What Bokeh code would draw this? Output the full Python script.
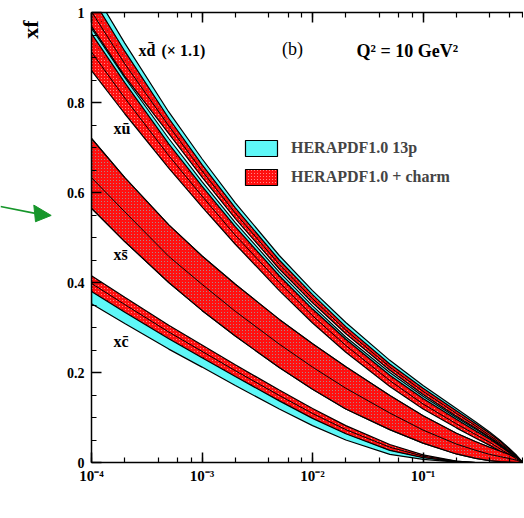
from bokeh.plotting import figure
from bokeh.layouts import row
from bokeh.models import (LogAxis, Label, Legend, LegendItem,
                          CustomJSTickFormatter, FixedTicker, LogTicker)
from bokeh.core.properties import value
from bokeh.embed import file_html
from bokeh.resources import INLINE

# ---------------- data ----------------
x = [1e-4, 2e-4, 5e-4, 1e-3, 2e-3, 5e-3, 1e-2, 2e-2, 5e-2, 0.1, 0.2, 0.3, 0.4, 0.5, 0.6, 0.7, 0.8]

# x dbar (x 1.1)
dbar_13p_hi = [1.055, 0.932, 0.779, 0.675, 0.577, 0.460, 0.382, 0.311, 0.227, 0.171, 0.120, 0.090, 0.068, 0.049, 0.032, 0.016, 0.0]
dbar_13p_lo = [1.015, 0.897, 0.752, 0.651, 0.557, 0.443, 0.366, 0.296, 0.214, 0.160, 0.111, 0.082, 0.061, 0.044, 0.028, 0.014, 0.0]
dbar_ch_hi = [1.035, 0.914, 0.765, 0.662, 0.566, 0.450, 0.373, 0.302, 0.219, 0.165, 0.115, 0.086, 0.065, 0.047, 0.030, 0.015, 0.0]
dbar_ch_mid = [1.002, 0.886, 0.748, 0.648, 0.554, 0.440, 0.364, 0.294, 0.212, 0.158, 0.109, 0.081, 0.060, 0.043, 0.027, 0.014, 0.0]
dbar_ch_lo = [0.969, 0.858, 0.731, 0.634, 0.542, 0.430, 0.355, 0.286, 0.205, 0.151, 0.103, 0.076, 0.056, 0.040, 0.025, 0.012, 0.0]

# x ubar
ubar_13p_hi = [0.965, 0.855, 0.720, 0.624, 0.533, 0.423, 0.348, 0.279, 0.200, 0.147, 0.100, 0.074, 0.055, 0.038, 0.024, 0.012, 0.0]
ubar_13p_lo = [0.941, 0.835, 0.702, 0.609, 0.520, 0.412, 0.337, 0.270, 0.191, 0.139, 0.093, 0.068, 0.049, 0.034, 0.021, 0.010, 0.0]
ubar_ch_hi = [0.953, 0.844, 0.708, 0.614, 0.524, 0.415, 0.341, 0.274, 0.194, 0.142, 0.096, 0.070, 0.052, 0.036, 0.022, 0.011, 0.0]
ubar_ch_mid = [0.912, 0.810, 0.682, 0.592, 0.505, 0.400, 0.326, 0.260, 0.182, 0.130, 0.086, 0.062, 0.045, 0.030, 0.018, 0.008, 0.0]
ubar_ch_lo = [0.871, 0.775, 0.654, 0.568, 0.485, 0.382, 0.310, 0.245, 0.169, 0.119, 0.077, 0.054, 0.038, 0.025, 0.014, 0.006, 0.0]

# x sbar
sbar_hi = [0.720, 0.633, 0.528, 0.459, 0.396, 0.318, 0.264, 0.213, 0.149, 0.104, 0.065, 0.046, 0.034, 0.025, 0.018, 0.011, 0.0]
sbar_mid = [0.633, 0.557, 0.458, 0.396, 0.336, 0.263, 0.212, 0.165, 0.110, 0.072, 0.041, 0.027, 0.018, 0.013, 0.009, 0.005, 0.0]
sbar_lo = [0.565, 0.491, 0.400, 0.338, 0.281, 0.211, 0.163, 0.119, 0.073, 0.043, 0.019, 0.009, 0.004, 0.002, 0.001, 0.0, 0.0]

# x cbar
cbar_13p_hi = [0.382, 0.336, 0.277, 0.235, 0.193, 0.139, 0.100, 0.065, 0.028, 0.012, 0.002, 0.0, 0.0, 0.0, 0.0, 0.0, 0.0]
cbar_13p_lo = [0.353, 0.309, 0.252, 0.212, 0.171, 0.119, 0.082, 0.050, 0.018, 0.007, 0.001, 0.0, 0.0, 0.0, 0.0, 0.0, 0.0]
cbar_ch_hi = [0.415, 0.367, 0.305, 0.261, 0.217, 0.161, 0.120, 0.082, 0.040, 0.017, 0.003, 0.0, 0.0, 0.0, 0.0, 0.0, 0.0]
cbar_ch_mid = [0.398, 0.351, 0.290, 0.247, 0.204, 0.149, 0.109, 0.073, 0.034, 0.014, 0.003, 0.0, 0.0, 0.0, 0.0, 0.0, 0.0]
cbar_ch_lo = [0.380, 0.334, 0.275, 0.233, 0.191, 0.137, 0.098, 0.064, 0.027, 0.011, 0.002, 0.0, 0.0, 0.0, 0.0, 0.0, 0.0]

y_ticks = [0, 0.2, 0.4, 0.6, 0.8, 1.0]
y_tick_labels = ["0", "0.2", "0.4", "0.6", "0.8", "1"]
x_tick_labels = ["10\u207b\u2074", "10\u207b\u00b3", "10\u207b\u00b2", "10\u207b\u00b9"]
legend_labels = ["HERAPDF1.0 13p", "HERAPDF1.0 + charm"]

CYAN = "#5ef7f7"
RED = "#ff1010"
GREEN = "#16962a"
SERIF = "Liberation Serif"
H = 505
TOP, BOTTOM = 12, 43

# ---------------- left strip: y title and green arrow ----------------
LW = 55
lf = figure(width=LW, height=H, x_range=(0, LW), y_range=(0, 1), output_backend="svg",
            toolbar_location=None, x_axis_location=None, y_axis_location=None,
            min_border_left=0, min_border_right=0, min_border_top=TOP, min_border_bottom=BOTTOM)
lf.outline_line_color = None
lf.grid.visible = False
lf.text(x=[30], y=[0.962], text=["xf"], angle=1.5708, text_align="center", text_baseline="middle",
        text_font=value(SERIF), text_font_style="bold", text_font_size="22px", text_color="black")
# arrow (decoration in the strip)
lf.segment(x0=[0], y0=[0.569], x1=[36], y1=[0.553], line_color=GREEN, line_width=1.6)
lf.patch(x=[50.7, 33.3, 35.0], y=[0.549, 0.572, 0.535], fill_color=GREEN, line_color=GREEN)

# ---------------- main figure ----------------
p = figure(width=523 - LW, height=H, x_axis_type="log", x_range=(1e-4, 0.81), y_range=(0, 1),
           output_backend="svg", toolbar_location=None,
           min_border_left=36, min_border_right=0, min_border_top=TOP, min_border_bottom=BOTTOM)
p.outline_line_color = None
p.xgrid.visible = False
p.ygrid.visible = False


def band(hi, lo):
    return x + x[::-1], hi + lo[::-1]


def cyan_band(hi, lo):
    xs, ys = band(hi, lo)
    return p.patch(xs, ys, fill_color=CYAN, line_color="black", line_width=1.2)


def red_band(hi, lo):
    xs, ys = band(hi, lo)
    return p.patch(xs, ys, fill_alpha=0, hatch_pattern="criss_cross", hatch_color=RED,
                   hatch_scale=3, hatch_weight=2, line_color="black", line_width=1.2)


r_d13 = cyan_band(dbar_13p_hi, dbar_13p_lo)
cyan_band(ubar_13p_hi, ubar_13p_lo)
cyan_band(sbar_hi, sbar_lo)
cyan_band(cbar_13p_hi, cbar_13p_lo)

r_dch = red_band(dbar_ch_hi, dbar_ch_lo)
red_band(ubar_ch_hi, ubar_ch_lo)
red_band(sbar_hi, sbar_lo)
red_band(cbar_ch_hi, cbar_ch_lo)

for mid in (dbar_ch_mid, ubar_ch_mid, sbar_mid, cbar_ch_mid):
    p.line(x, mid, line_color="black", line_width=1)

# ---------------- axes ----------------
xt = LogTicker()
xa = p.xaxis[0]
xa.ticker = xt
xa.formatter = CustomJSTickFormatter(args=dict(xl=x_tick_labels),
                                     code="const e = Math.round(Math.log10(tick)); return xl[e + 4] || ' ';")
ya = p.yaxis[0]
ya.ticker = FixedTicker(ticks=y_ticks, minor_ticks=[i * 0.05 for i in range(21)])
ya.formatter = CustomJSTickFormatter(args=dict(yt=y_ticks, yl=y_tick_labels),
                                     code="for (let i = 0; i < yt.length; i++) { if (Math.abs(yt[i] - tick) < 1e-9) return yl[i]; } return ' ';")

for ax in (xa, ya):
    ax.axis_line_width = 1.5
    ax.major_tick_line_width = 1.5
    ax.minor_tick_line_width = 1.2
    ax.major_tick_in = 10
    ax.major_tick_out = 0
    ax.minor_tick_in = 5
    ax.minor_tick_out = 0
    ax.major_label_text_font = SERIF
    ax.major_label_text_font_style = "bold"
    ax.major_label_text_color = "black"
xa.major_label_text_font_size = "15px"
ya.major_label_text_font_size = "14px"
xa.major_label_standoff = 5
ya.major_label_standoff = 7

top = LogAxis(ticker=xt, axis_line_width=1.5, major_tick_line_width=1.5, minor_tick_line_width=1.2,
              major_tick_in=10, major_tick_out=0, minor_tick_in=5, minor_tick_out=0,
              major_label_text_font_size="1px", major_label_text_alpha=0, major_label_standoff=0)
p.add_layout(top, "above")

# ---------------- legend ----------------
legend = Legend(items=[LegendItem(label=legend_labels[0], renderers=[r_d13]),
                       LegendItem(label=legend_labels[1], renderers=[r_dch])],
                location=(150, 275), orientation="vertical",
                glyph_width=40, glyph_height=20, spacing=9, padding=0, margin=0,
                label_standoff=10, border_line_color=None, background_fill_alpha=0,
                label_text_font=SERIF, label_text_font_style="bold",
                label_text_font_size="16px", label_height=20)
p.add_layout(legend)

# ---------------- texts ----------------
def lab(xv, yv, text, size, style="bold", **kw):
    p.add_layout(Label(x=xv, y=yv, text=text, text_font=SERIF, text_font_style=style,
                       text_font_size=size, text_color="black", text_baseline="middle", **kw))


lab(2.66e-4, 0.915, "xd\u0304", "16px")
lab(4.3e-4, 0.915, "(\u00d7 1.1)", "16px")
lab(5.3e-3, 0.92, "(b)", "18px", style="normal")
lab(2.5e-2, 0.915, "Q\u00b2 = 10 GeV\u00b2", "18px")
lab(1.58e-4, 0.742, "xu\u0304", "16px")
lab(1.58e-4, 0.462, "xs\u0304", "16px")
lab(1.58e-4, 0.269, "xc\u0304", "16px")

layout = row(lf, p, spacing=0)
open("out.html", "w").write(file_html(layout, INLINE))
